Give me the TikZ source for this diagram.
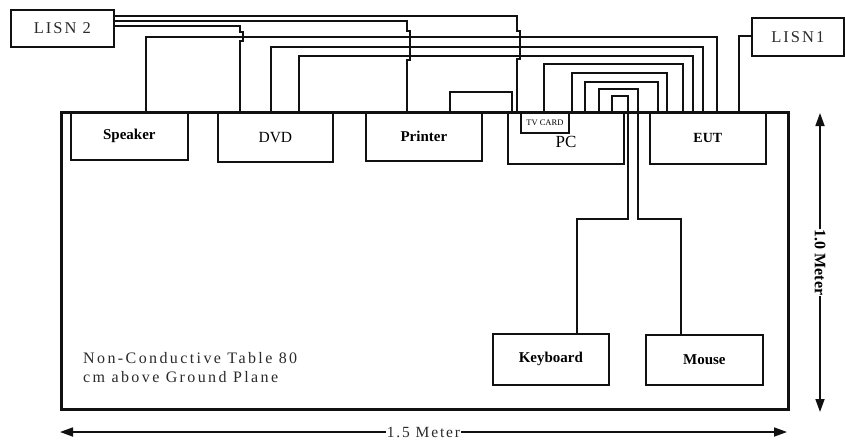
\documentclass[tikz,border=0pt]{standalone}
\usepackage{fontspec}
\setmainfont{Liberation Serif}
\newfontfamily\spaced[LetterSpace=12]{Liberation Serif}
\newfontfamily\wide[LetterSpace=15]{Liberation Serif}
\usetikzlibrary{arrows.meta}
\definecolor{ink}{HTML}{111111}
\definecolor{txt}{HTML}{2a2a2a}
\begin{document}
\begin{tikzpicture}[x=1pt,y=-1pt,
  box/.style={draw=ink, line width=1.7pt, anchor=north west, inner sep=0pt, text=black},
  wire/.style={draw=ink, line width=1.7pt},
  dim/.style={draw=ink, line width=1.7pt, {Triangle[length=13pt,width=9pt]}-{Triangle[length=13pt,width=9pt]}},
  lbl/.style={font=\fontsize{15}{16}\selectfont\bfseries},
  rlbl/.style={font=\fontsize{15.5}{17}\selectfont}
]
\useasboundingbox (0,0) rectangle (845,439);
% table
\node[draw=ink, line width=3.2pt, anchor=north west, minimum width=727pt, minimum height=297pt, inner sep=0pt] (table) at (60,111) {};
% boxes
\node[box, minimum width=117pt, minimum height=47pt, lbl] (spk) at (70,112) {Speaker};
\node[box, minimum width=115pt, minimum height=49pt, rlbl] (dvd) at (217,112) {DVD};
\node[box, minimum width=116pt, minimum height=48pt, lbl] (prn) at (365,112) {Printer};
\node[box, minimum width=116pt, minimum height=51pt] (pc) at (507,112) {};
\node[font=\fontsize{17}{18}\selectfont] (pcl) at (566,142) {PC};
\node[box, minimum width=48pt, minimum height=20pt, font=\fontsize{8.5}{9}\selectfont] (tv) at (520,112) {TV CARD};
\node[box, minimum width=116pt, minimum height=51pt, font=\fontsize{14}{15}\selectfont\bfseries] (eut) at (649,112) {EUT};
\node[box, minimum width=116pt, minimum height=51pt, lbl] (kbd) at (492,333) {Keyboard};
\node[box, minimum width=117pt, minimum height=50pt, lbl] (mouse) at (645,334) {Mouse};
\node[box, minimum width=103pt, minimum height=37pt, text=txt, font=\spaced\fontsize{16.5}{18}\selectfont] (l2) at (10,9) {LISN 2};
\node[box, minimum width=92pt, minimum height=38pt, text=txt, font=\spaced\fontsize{16.5}{18}\selectfont] (l1) at (751,17) {LISN1};
% table caption
\node[anchor=north west, align=left, text=txt, inner sep=0pt, font=\wide\fontsize{16}{19}\selectfont] (cap) at (83,352) {Non-Conductive Table 80\\cm above Ground Plane};
% wires from LISN 2
\draw[wire] (l2.east |- 0,16) -- (517,16) -- (517,31) -- (520,31) -- (520,59) -- (517,59) -- (pc.north -| 517,0);
\draw[wire] (l2.east |- 0,21) -- (407,21) -- (407,31) -- (410,31) -- (410,60) -- (407,60) -- (prn.north -| 407,0);
\draw[wire] (l2.east |- 0,26) -- (240,26) -- (240,32) -- (243,32) -- (243,41) -- (240,41) -- (dvd.north -| 240,0);
% signal wires to EUT
\draw[wire] (spk.north -| 146,0) -- (146,37) -- (717,37) -- (eut.north -| 717,0);
\draw[wire] (dvd.north -| 271,0) -- (271,47) -- (703,47) -- (eut.north -| 703,0);
\draw[wire] (dvd.north -| 299,0) -- (299,56) -- (693,56) -- (eut.north -| 693,0);
\draw[wire] (prn.north -| 450,0) -- (450,92) -- (512,92) -- (pc.north -| 512,0);
\draw[wire] (tv.north -| 544,0) -- (544,64) -- (683,64) -- (eut.north -| 683,0);
\draw[wire] (pc.north -| 572,0) -- (572,73) -- (667,73) -- (eut.north -| 667,0);
\draw[wire] (pc.north -| 585,0) -- (585,82) -- (658,82) -- (eut.north -| 658,0);
\draw[wire] (pc.north -| 599,0) -- (599,89) -- (638,89) -- (638,219) -- (681,219) -- (mouse.north -| 681,0);
\draw[wire] (pc.north -| 612,0) -- (612,96) -- (628,96) -- (628,219) -- (577,219) -- (kbd.north -| 577,0);
\draw[wire] (eut.north -| 739,0) -- (739,36) -- (l1.west |- 0,36);
% dimensions
\coordinate (hl) at (60,432);
\coordinate (hr) at (787,432);
\coordinate (vt) at (820,113);
\coordinate (vb) at (820,412);
\draw[dim] (hl) -- (hr) node[midway, fill=white, inner sep=1pt, text=txt, font=\spaced\fontsize{15.5}{17}\selectfont] (hlab) {1.5 Meter};
\draw[dim] (vt) -- (vb) node[midway, fill=white, inner sep=1pt, rotate=-90, font=\fontsize{16}{17}\selectfont\bfseries] (vlab) {1.0 Meter};
\end{tikzpicture}
\end{document}
